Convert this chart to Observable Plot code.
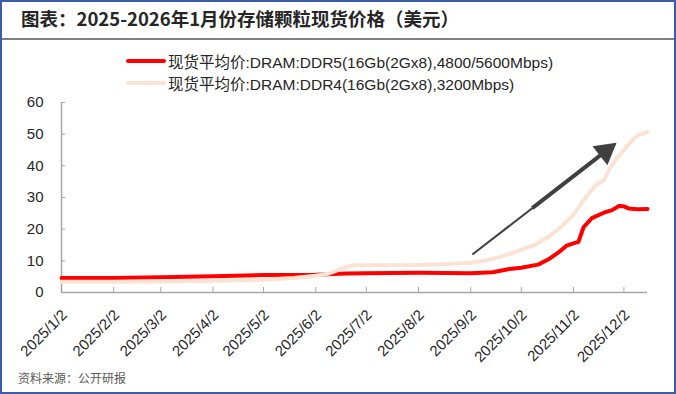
<!DOCTYPE html>
<html>
<head>
<meta charset="utf-8">
<script src="https://cdn.jsdelivr.net/npm/d3@7"></script>
<script src="https://cdn.jsdelivr.net/npm/@observablehq/plot@0.6"></script>
<style>
  html, body { margin: 0; padding: 0; background: #fff; }
  #wrap { position: relative; width: 676px; height: 394px; overflow: hidden; background: #fff;
          font-family: "Liberation Sans", "Noto Sans CJK SC", sans-serif; }
  #frame { position: absolute; left: 0; top: 0; width: 672px; height: 390px; border: 2px solid #3B5CA8; box-sizing: content-box; pointer-events: none; z-index: 5; }
  #title { position: absolute; left: 21px; top: 5px; font: bold 18.5px "Noto Sans CJK SC", sans-serif; color: #262626; z-index: 3; white-space: nowrap; }
  #sep { position: absolute; left: 0; top: 38px; width: 676px; height: 2px; background: #7F7F7F; z-index: 3; }
  #legend { position: absolute; left: 126px; top: 50px; z-index: 3; font: 15.5px "Liberation Sans", "Noto Sans CJK SC", sans-serif; color: #262626; }
  .item { display: flex; align-items: center; height: 22px; white-space: nowrap; }
  .sw { width: 40px; height: 4px; margin-right: 2px; border-radius: 2px; }
  #foot { position: absolute; left: 18px; top: 369px; font: 12px "Noto Sans CJK SC", sans-serif; color: #595959; z-index: 3; }
  #chart { position: absolute; left: 0; top: 0; }
</style>
</head>
<body>
<div id="wrap">
  <div id="frame"></div>
  <div id="title"></div>
  <div id="sep"></div>
  <div id="legend"></div>
  <div id="chart"></div>
  <div id="foot"></div>
</div>
<script>
const titleText = "图表：2025-2026年1月份存储颗粒现货价格（美元）";
const sourceText = "资料来源：公开研报";
const seriesNames = ["现货平均价:DRAM:DDR5(16Gb(2Gx8),4800/5600Mbps)", "现货平均价:DRAM:DDR4(16Gb(2Gx8),3200Mbps)"];
const seriesColors = ["#FF0000", "#FBE3D3"];

const xTickLabels = ["2025/1/2","2025/2/2","2025/3/2","2025/4/2","2025/5/2","2025/6/2","2025/7/2","2025/8/2","2025/9/2","2025/10/2","2025/11/2","2025/12/2"];
const yTicks = [0, 10, 20, 30, 40, 50, 60];

const ddr5Dates = ["2025-01-02","2025-02-02","2025-03-02","2025-04-02","2025-05-02","2025-06-02","2025-06-20","2025-07-02","2025-08-02","2025-09-02","2025-09-15","2025-09-25","2025-10-02","2025-10-12","2025-10-18","2025-10-25","2025-10-29","2025-11-02","2025-11-05","2025-11-08","2025-11-13","2025-11-20","2025-11-25","2025-11-29","2025-12-02","2025-12-05","2025-12-10","2025-12-16"];
const ddr5Values = [4.6, 4.6, 4.8, 5.1, 5.5, 5.6, 6.0, 6.1, 6.2, 6.1, 6.4, 7.4, 7.8, 8.8, 10.4, 13.0, 14.8, 15.5, 16.0, 20.6, 23.5, 25.2, 26.0, 27.3, 27.2, 26.5, 26.3, 26.4];

const ddr4Dates = ["2025-01-02","2025-02-02","2025-03-02","2025-04-02","2025-05-02","2025-05-20","2025-06-02","2025-06-10","2025-06-20","2025-06-24","2025-07-02","2025-08-02","2025-08-20","2025-09-02","2025-09-10","2025-09-20","2025-10-02","2025-10-10","2025-10-18","2025-10-25","2025-11-02","2025-11-06","2025-11-10","2025-11-15","2025-11-20","2025-11-24","2025-11-28","2025-12-02","2025-12-06","2025-12-10","2025-12-16"];
const ddr4Values = [3.4, 3.4, 3.5, 3.7, 4.0, 4.6, 5.3, 6.0, 8.0, 8.6, 8.6, 8.7, 9.0, 9.4, 10.0, 11.3, 13.5, 15.0, 17.5, 20.4, 24.5, 27.5, 30.5, 33.8, 35.5, 39.5, 42.5, 45.0, 47.5, 49.6, 50.7];

// trend arrow annotation (start / end in data units)
const arrowDates = ["2025-09-03", "2025-11-27"];
const arrowValues = [12.0, 47.0];

const parse = d3.utcParse("%Y-%m-%d");
const parseTick = d3.utcParse("%Y/%m/%d");
const rows = [];
ddr5Dates.forEach((d, i) => rows.push({date: parse(d), value: ddr5Values[i], series: seriesNames[0]}));
ddr4Dates.forEach((d, i) => rows.push({date: parse(d), value: ddr4Values[i], series: seriesNames[1]}));
const xTicks = xTickLabels.map(s => parseTick(s));
const arrow = [{x1: parse(arrowDates[0]), y1: arrowValues[0], x2: parse(arrowDates[1]), y2: arrowValues[1]}];
const t = 0.93;
const head = [{x: new Date(+arrow[0].x1 + t * (arrow[0].x2 - arrow[0].x1)), y: arrow[0].y1 + t * (arrow[0].y2 - arrow[0].y1)}];
const shaftMid = [{x1: arrow[0].x1, y1: arrow[0].y1, x2: head[0].x, y2: head[0].y}];

document.getElementById("title").textContent = titleText;
document.getElementById("foot").textContent = sourceText;
const leg = document.getElementById("legend");
seriesNames.forEach((n, i) => {
  const it = document.createElement("div"); it.className = "item";
  const sw = document.createElement("div"); sw.className = "sw"; sw.style.background = seriesColors[i];
  const tx = document.createElement("span"); tx.textContent = n;
  it.appendChild(sw); it.appendChild(tx); leg.appendChild(it);
});

const chart = Plot.plot({
  width: 676,
  height: 394,
  marginTop: 102,
  marginBottom: 102,
  marginLeft: 61,
  marginRight: 29,
  style: {fontFamily: '"Liberation Sans", sans-serif', fontSize: "15px", color: "#262626", background: "transparent"},
  x: {type: "utc", domain: [parse("2025-01-02"), parse("2025-12-16")]},
  y: {domain: [0, 60]},
  color: {domain: seriesNames, range: seriesColors},
  marks: [
    Plot.axisY({ticks: yTicks, tickSize: 0, tickPadding: 18, label: null, fontSize: 15}),
    Plot.axisY({ticks: yTicks, tickSize: 4, dx: 4, tickFormat: () => "", stroke: "#A6A6A6", label: null}),
    Plot.axisX({ticks: xTicks, tickFormat: d3.utcFormat("%Y/%-m/%-d"), tickRotate: -45, tickSize: 0, tickPadding: 20, dx: 3, label: null, fontSize: 15}),
    Plot.axisX({ticks: xTicks, tickSize: 5, dy: -5, tickFormat: () => "", stroke: "#A6A6A6", label: null}),
    Plot.ruleY([0], {stroke: "#A6A6A6", strokeWidth: 1.5}),
    Plot.ruleX([parse("2025-01-02")], {stroke: "#A6A6A6", strokeWidth: 1.5}),
    Plot.lineY(rows, {x: "date", y: "value", stroke: "series", strokeWidth: 4, strokeLinejoin: "round", strokeLinecap: "round"}),
    Plot.link(arrow, {x1: "x1", y1: "y1", x2: "x2", y2: "y2", stroke: "#404040", strokeWidth: 2, strokeLinecap: "butt"}),
    Plot.link(shaftMid, {x1: d => new Date(+d.x1 + 0.45 * (d.x2 - d.x1)), y1: d => d.y1 + 0.45 * (d.y2 - d.y1), x2: "x2", y2: "y2", stroke: "#404040", strokeWidth: 4, strokeLinecap: "butt"}),
    Plot.dot(head, {x: "x", y: "y", symbol: "triangle", r: 9, fill: "#404040", rotate: 52})
  ]
});
document.getElementById("chart").appendChild(chart);
</script>
</body>
</html>
